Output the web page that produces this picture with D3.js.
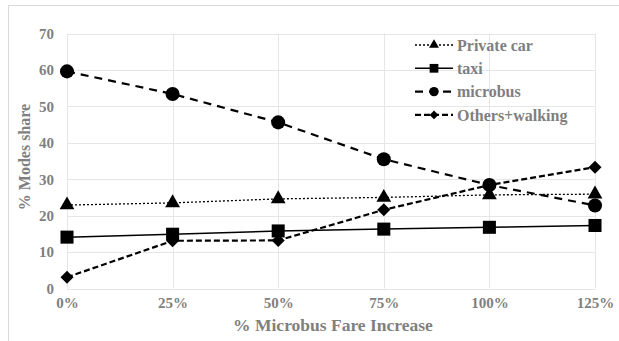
<!DOCTYPE html>
<html><head><meta charset="utf-8">
<script src="https://cdn.jsdelivr.net/npm/d3@7"></script>
<style>body{margin:0;background:#fff;}svg{display:block;}</style>
</head><body>
<script>
const categories = ["0%","25%","50%","75%","100%","125%"];
const privateCar = [22.9, 23.5, 24.6, 25.0, 25.7, 25.9];
const taxi = [14.1, 14.9, 15.8, 16.3, 16.8, 17.3];
const microbus = [59.6, 53.4, 45.6, 35.5, 28.4, 22.8];
const othersWalking = [3.1, 13.1, 13.2, 21.6, 28.4, 33.3];
const yTicks = [0,10,20,30,40,50,60,70];
const seriesNames = ["Private car","taxi","microbus","Others+walking"];

const W = 619, H = 341;
const svg = d3.select("body").append("svg").attr("width", W).attr("height", H);
const txt = "#7f7f7f";
const font = "'Liberation Serif','Times New Roman',serif";

// outer border
svg.append("rect").attr("x", 8.5).attr("y", 5.5).attr("width", 700).attr("height", 400)
  .attr("fill", "none").attr("stroke", "#d9d9d9").attr("stroke-width", 1);

const x = d3.scalePoint().domain(categories).range([67, 595]);
const y = d3.scaleLinear().domain([0, 70]).range([288.5, 33.5]);

// gridlines
const g = svg.append("g");
g.selectAll("line.h").data(yTicks).join("line")
  .attr("x1", 67).attr("x2", 595)
  .attr("y1", d => Math.round(y(d)) + 0.5).attr("y2", d => Math.round(y(d)) + 0.5)
  .attr("stroke", "#e6e6e6");
g.selectAll("line.v").data(categories).join("line")
  .attr("y1", y(0)).attr("y2", y(70))
  .attr("x1", d => Math.round(x(d)) + 0.5).attr("x2", d => Math.round(x(d)) + 0.5)
  .attr("stroke", "#e6e6e6");

// axes
const yAxis = svg.append("g").attr("transform", "translate(67,0)")
  .call(d3.axisLeft(y).tickValues(yTicks).tickSize(0).tickPadding(13));
const xAxis = svg.append("g").attr("transform", `translate(0,${y(0)})`)
  .call(d3.axisBottom(x).tickSize(0).tickPadding(9));
[yAxis, xAxis].forEach(a => {
  a.select(".domain").remove();
  a.selectAll("text").attr("fill", txt).attr("font-family", font)
    .attr("font-weight", "bold").attr("font-size", "15px");
});

svg.append("text").attr("x", 333).attr("y", 331).attr("text-anchor", "middle")
  .attr("fill", txt).attr("font-family", font).attr("font-weight", "bold")
  .attr("font-size", "17.5px").text("% Microbus Fare Increase");
svg.append("text").attr("transform", "translate(30,157) rotate(-90)").attr("text-anchor", "middle")
  .attr("fill", txt).attr("font-family", font).attr("font-weight", "bold")
  .attr("font-size", "16px").text("% Modes share");

const styles = [
  {data: privateCar, dash: "2,2", width: 1.3, sym: d3.symbolTriangle, size: 95, rot: 0},
  {data: taxi, dash: null, width: 1.5, sym: d3.symbolSquare, size: 170, rot: 0},
  {data: microbus, dash: "8,6", width: 2.2, sym: d3.symbolCircle, size: 155, rot: 0},
  {data: othersWalking, dash: "6,3", width: 2.2, sym: d3.symbolSquare, size: 85, rot: 45},
];

const line = d3.line().x((d, i) => x(categories[i])).y(d => y(d));
styles.forEach(s => {
  svg.append("path").datum(s.data).attr("d", line).attr("fill", "none")
    .attr("stroke", "#000").attr("stroke-width", s.width)
    .attr("stroke-dasharray", s.dash);
  svg.selectAll(null).data(s.data).join("path")
    .attr("transform", (d, i) => `translate(${x(categories[i])},${y(d)}) rotate(${s.rot})`)
    .attr("d", d3.symbol().type(s.sym).size(s.size)).attr("fill", "#000");
});

// legend
const lg = svg.append("g");
seriesNames.forEach((name, i) => {
  const s = styles[i];
  const ly = 45 + i * 23.3;
  lg.append("line").attr("x1", 415).attr("x2", 453).attr("y1", ly).attr("y2", ly)
    .attr("stroke", "#000").attr("stroke-width", s.width).attr("stroke-dasharray", s.dash);
  lg.append("path").attr("transform", `translate(434,${ly}) rotate(${s.rot})`)
    .attr("d", d3.symbol().type(s.sym).size(s.size * 0.45)).attr("fill", "#000");
  lg.append("text").attr("x", 457).attr("y", ly).attr("dy", "0.35em")
    .attr("fill", txt).attr("font-family", font).attr("font-weight", "bold")
    .attr("font-size", "16px").text(name);
});
</script>
</body></html>
